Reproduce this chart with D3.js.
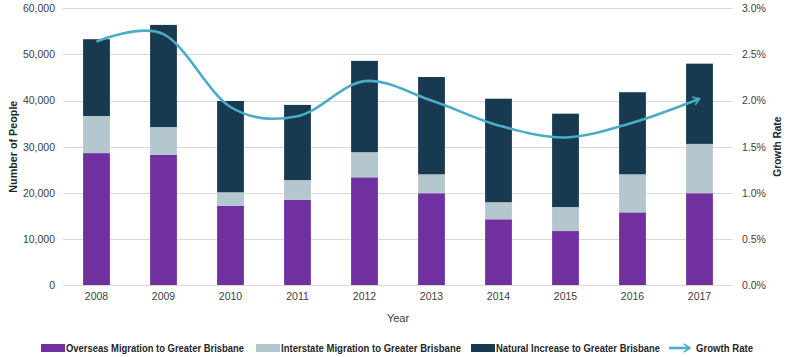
<!DOCTYPE html>
<html><head><meta charset="utf-8">
<script src="https://cdn.jsdelivr.net/npm/d3@7"></script>
<style>
body{margin:0;background:#fff;}
text{font-family:"Liberation Sans",Arial,sans-serif;}
</style></head>
<body><svg id="c" width="788" height="357"></svg>
<script>
const years = ["2008","2009","2010","2011","2012","2013","2014","2015","2016","2017"];
const overseas = [28600, 28200, 17150, 18450, 23350, 19900, 14250, 11700, 15750, 19900];
const interstate = [8050, 6050, 2950, 4300, 5450, 4100, 3700, 5200, 8250, 10700];
const natural = [16650, 22150, 19800, 16300, 19800, 21100, 22450, 20250, 17800, 17400];
const growth = [0.0264, 0.0272, 0.0193, 0.0183, 0.0221, 0.0200, 0.0173, 0.0160, 0.0176, 0.0202];
const leftTicks = [0, 10000, 20000, 30000, 40000, 50000, 60000];
const rightTicks = [0, 0.005, 0.01, 0.015, 0.02, 0.025, 0.03];
const seriesNames = ["Overseas Migration to Greater Brisbane","Interstate Migration to Greater Brisbane","Natural Increase to Greater Brisbane"];
const lineName = "Growth Rate";
const colors = ["#7030A0","#B4C6CE","#173A50"];
const lineColor = "#4BACC6";

const svg = d3.select("#c");
const L = 63, R = 733, T = 8.3, B = 285;
const x = d3.scaleBand().domain(years).range([L, R]).paddingInner(0.6).paddingOuter(0.3);
const y = d3.scaleLinear().domain([0, 60000]).range([B, T]);
const y2 = d3.scaleLinear().domain([0, 0.03]).range([B, T]);

// gridlines
svg.append("g").selectAll("line").data(leftTicks).join("line")
  .attr("x1", L).attr("x2", R).attr("y1", d => Math.round(y(d)) + 0.5).attr("y2", d => Math.round(y(d)) + 0.5)
  .attr("stroke", "#d9d9d9").attr("stroke-width", 1);

// left axis
const la = svg.append("g").attr("transform", `translate(${L},0)`)
  .call(d3.axisLeft(y).tickValues(leftTicks).tickFormat(d3.format(",")).tickSize(0).tickPadding(8));
la.select(".domain").remove();
la.selectAll("text").attr("font-size", 10.5).attr("fill", "#404040");

// right axis
const ra = svg.append("g").attr("transform", `translate(${R},0)`)
  .call(d3.axisRight(y2).tickValues(rightTicks).tickFormat(d3.format(".1%")).tickSize(0).tickPadding(9));
ra.select(".domain").remove();
ra.selectAll("text").attr("font-size", 10.5).attr("fill", "#404040");

// bottom axis
const ba = svg.append("g").attr("transform", `translate(0,${B})`)
  .call(d3.axisBottom(x).tickSize(0).tickPadding(8));
ba.select(".domain").remove();
ba.selectAll("text").attr("font-size", 10.5).attr("fill", "#404040");

// stacked bars
const rows = years.map((yr, i) => ({year: yr, s0: overseas[i], s1: interstate[i], s2: natural[i]}));
const stack = d3.stack().keys(["s0","s1","s2"])(rows);
svg.append("g").selectAll("g").data(stack).join("g").attr("fill", (d, i) => colors[i])
  .selectAll("rect").data(d => d).join("rect")
  .attr("x", d => x(d.data.year)).attr("width", x.bandwidth())
  .attr("y", d => y(d[1])).attr("height", d => y(d[0]) - y(d[1]));

// arrow marker
const defs = svg.append("defs");
defs.append("marker").attr("id", "arr").attr("viewBox", "0 0 10 10").attr("refX", 8).attr("refY", 5)
  .attr("markerWidth", 4).attr("markerHeight", 4).attr("orient", "auto").attr("markerUnits", "strokeWidth")
  .append("path").attr("d", "M2,1 L8,5 L2,9").attr("fill", "none").attr("stroke", lineColor).attr("stroke-width", 1.6);

// growth line
const line = d3.line().x((d, i) => x(years[i]) + x.bandwidth() / 2).y(d => y2(d)).curve(d3.curveCardinal.tension(0));
svg.append("path").datum(growth).attr("d", line).attr("fill", "none")
  .attr("stroke", lineColor).attr("stroke-width", 2.6).attr("marker-end", "url(#arr)");

// axis titles
svg.append("text").attr("transform", `translate(17,${(T + B) / 2}) rotate(-90)`).attr("text-anchor", "middle")
  .attr("font-size", 11).attr("font-weight", "bold").attr("fill", "#262626")
  .attr("textLength", 92).attr("lengthAdjust", "spacingAndGlyphs").text("Number of People");
svg.append("text").attr("transform", `translate(781,${(T + B) / 2}) rotate(-90)`).attr("text-anchor", "middle")
  .attr("font-size", 11).attr("font-weight", "bold").attr("fill", "#262626")
  .attr("textLength", 60).attr("lengthAdjust", "spacingAndGlyphs").text("Growth Rate");
svg.append("text").attr("x", 398).attr("y", 322).attr("text-anchor", "middle")
  .attr("font-size", 11).attr("fill", "#404040").text("Year");

// legend
const lg = svg.append("g").attr("transform", "translate(0,348)");
const items = [
  {name: seriesNames[0], sx: 41, tw: 178, color: colors[0]},
  {name: seriesNames[1], sx: 256, tw: 180, color: colors[1]},
  {name: seriesNames[2], sx: 471, tw: 164, color: colors[2]},
];
items.forEach(it => {
  lg.append("rect").attr("x", it.sx).attr("y", -4).attr("width", 24).attr("height", 8).attr("fill", it.color);
  lg.append("text").attr("x", it.sx + 25).attr("y", 4).attr("font-size", 11).attr("font-weight", "bold")
    .attr("fill", "#262626").attr("textLength", it.tw).attr("lengthAdjust", "spacingAndGlyphs").text(it.name);
});
lg.append("line").attr("x1", 669).attr("x2", 690).attr("y1", 0).attr("y2", 0)
  .attr("stroke", lineColor).attr("stroke-width", 2.6).attr("marker-end", "url(#arr)");
lg.append("text").attr("x", 696).attr("y", 4).attr("font-size", 11).attr("font-weight", "bold")
  .attr("fill", "#262626").attr("textLength", 57).attr("lengthAdjust", "spacingAndGlyphs").text(lineName);
</script></body></html>
